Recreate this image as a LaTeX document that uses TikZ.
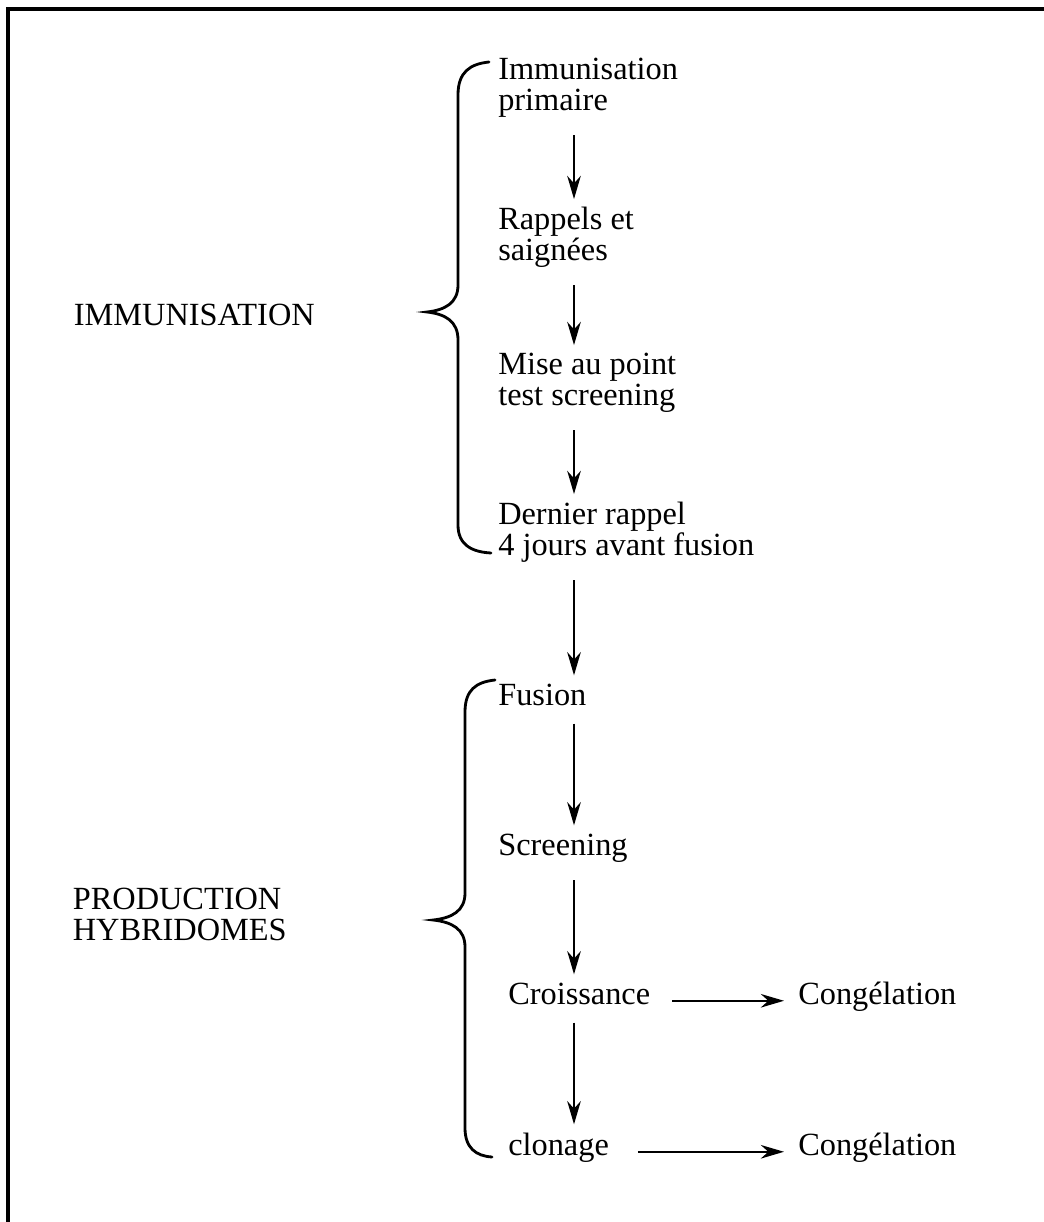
\documentclass[tikz,border=0pt]{standalone}
\usepackage{fontspec}
\setmainfont{Liberation Serif}
\usetikzlibrary{arrows.meta}

\tikzset{
  etape/.style={anchor=base west, align=left, inner sep=0pt, font=\fontsize{23}{21.5}\selectfont},
  titre/.style={anchor=base east, align=left, inner sep=0pt, font=\fontsize{23}{21.5}\selectfont},
  fleche/.style={line width=1.4pt, -{Stealth[length=0.58cm, width=0.34cm]}, shorten <=0.45cm, shorten >=0.2cm},
  accolade/.style={line width=2pt, line cap=round},
  cadre/.style={line width=2.8pt}
}

\begin{document}
\begin{tikzpicture}[x=0.025cm, y=-0.025cm]
\useasboundingbox (0,0) rectangle (1044,1222);
\draw[cadre] (8,1240) -- (8,9) -- (1060,9);

% etapes de l'immunisation (base = derniere ligne)
\node[etape] (imm) at (498,110) {Immunisation\\primaire};
\node[etape] (rap) at (498,260) {Rappels et\\saignées};
\node[etape] (mise) at (498,405) {Mise au point\\test screening};
\node[etape] (der) at (498,555) {Dernier rappel\\4 jours avant fusion};

% production des hybridomes
\node[etape] (fus) at (498,705) {Fusion};
\node[etape] (scr) at (498,855) {Screening};
\node[etape] (cro) at (508,1004) {Croissance};
\node[etape] (clo) at (508,1155) {clonage};
\node[etape] (cong1) at (798,1004) {Congélation};
\node[etape] (cong2) at (798,1155) {Congélation};

\node[titre] (immu) at (315,325) {IMMUNISATION};
\node[titre] (prod) at (287,940) {PRODUCTION\\HYBRIDOMES};

% fleches
\coordinate (axe) at (574,0);
\draw[fleche] (imm.south -| axe) -- (rap.north -| axe);
\draw[fleche] (rap.south -| axe) -- (mise.north -| axe);
\draw[fleche] (mise.south -| axe) -- (der.north -| axe);
\draw[fleche] (der.south -| axe) -- (fus.north -| axe);
\draw[fleche] (fus.south -| axe) -- (scr.north -| axe);
\draw[fleche] (scr.south -| axe) -- (cro.north -| axe);
\draw[fleche] (cro.south -| axe) -- (clo.north -| axe);
\draw[fleche, shorten <=0.55cm, shorten >=0.35cm] (cro.mid east) -- (cong1.mid west);
\draw[fleche, shorten <=0.72cm, shorten >=0.35cm] (clo.mid east) -- (cong2.mid west);

% accolades
\draw[accolade] (489,62) .. controls (470,64) and (458,72) .. (458,95)
  -- (458,285) .. controls (458,303) and (445,310) .. (427,312)
  .. controls (445,314) and (458,321) .. (458,340)
  -- (458,525) .. controls (458,545) and (472,552) .. (491,553);
\draw[accolade] (495,680) .. controls (476,682) and (465,690) .. (465,712)
  -- (465,893) .. controls (465,911) and (452,918) .. (433,920)
  .. controls (452,922) and (465,929) .. (465,947)
  -- (465,1128) .. controls (465,1148) and (476,1156) .. (492,1157);
\end{tikzpicture}
\end{document}
